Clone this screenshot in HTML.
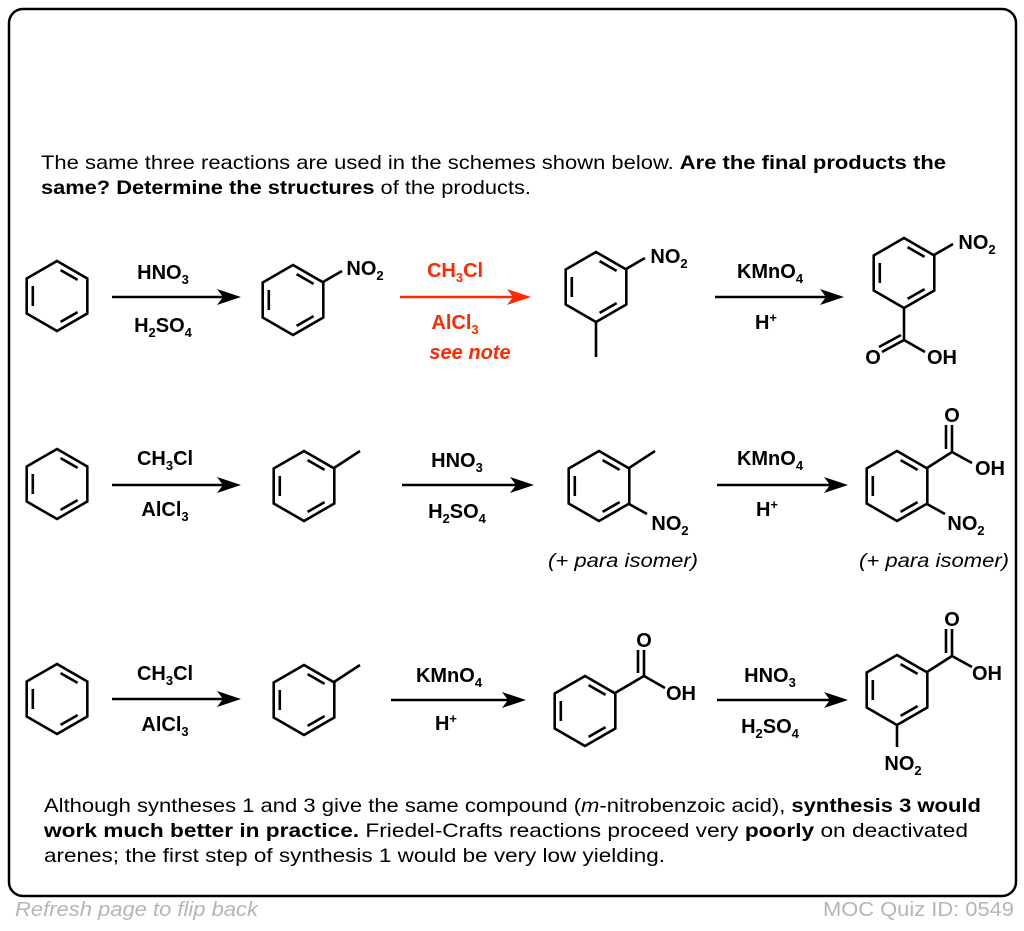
<!DOCTYPE html>
<html><head><meta charset="utf-8"><style>
body{margin:0;background:#fff;width:1024px;height:926px;overflow:hidden;font-family:"Liberation Sans",Arial,sans-serif}
</style></head><body>
<svg width="1024" height="926" viewBox="0 0 1024 926" xmlns="http://www.w3.org/2000/svg" font-family="Liberation Sans, Arial, sans-serif">
<defs>
<g id="ring" fill="none" stroke="#000" stroke-width="2.6" stroke-linejoin="miter">
<polygon points="0,-35 30.3,-17.5 30.3,17.5 0,35 -30.3,17.5 -30.3,-17.5"/>
<line x1="3.6" y1="-25.9" x2="20.6" y2="-16.1"/>
<line x1="-24.2" y1="-10" x2="-24.2" y2="10"/>
<line x1="20.6" y1="16.1" x2="3.6" y2="25.9"/>
</g>
<path id="head" d="M-24,-8 L0,0 L-24,8 L-18,0z"/>
</defs>
<rect x="9" y="9" width="1007" height="887" rx="14" fill="none" stroke="#000" stroke-width="2.5"/>
<g font-size="19.5" fill="#000">
<text x="41" y="169" textLength="905" lengthAdjust="spacingAndGlyphs">The same three reactions are used in the schemes shown below. <tspan font-weight="bold">Are the final products the</tspan></text>
<text x="41" y="194" textLength="490" lengthAdjust="spacingAndGlyphs"><tspan font-weight="bold">same? Determine the structures</tspan> of the products.</text>
<text x="44" y="812" textLength="937" lengthAdjust="spacingAndGlyphs">Although syntheses 1 and 3 give the same compound (<tspan font-style="italic">m</tspan>-nitrobenzoic acid), <tspan font-weight="bold">synthesis 3 would</tspan></text>
<text x="44" y="837" textLength="924" lengthAdjust="spacingAndGlyphs"><tspan font-weight="bold">work much better in practice.</tspan> Friedel-Crafts reactions proceed very <tspan font-weight="bold">poorly</tspan> on deactivated</text>
<text x="44" y="862" textLength="621" lengthAdjust="spacingAndGlyphs">arenes; the first step of synthesis 1 would be very low yielding.</text>
</g>
<g font-size="20" font-style="italic" fill="#b5b5b5">
<text x="15" y="916" textLength="243" lengthAdjust="spacingAndGlyphs">Refresh page to flip back</text>
<text x="823" y="916" font-style="normal" textLength="191" lengthAdjust="spacingAndGlyphs">MOC Quiz ID: 0549</text>
</g>
<use href="#ring" x="57" y="296"/>
<use href="#ring" x="293" y="300"/>
<use href="#ring" x="596" y="287"/>
<use href="#ring" x="904" y="273"/>
<use href="#ring" x="57" y="484"/>
<use href="#ring" x="304" y="486"/>
<use href="#ring" x="599" y="486"/>
<use href="#ring" x="897" y="486"/>
<use href="#ring" x="57" y="699"/>
<use href="#ring" x="304" y="700"/>
<use href="#ring" x="585" y="711"/>
<use href="#ring" x="897" y="690"/>
<g stroke="#000" stroke-width="2.6" fill="none">
<line x1="323" y1="282" x2="342" y2="271"/>
<line x1="626" y1="269" x2="645" y2="258"/>
<line x1="596" y1="322" x2="596" y2="357"/>
<line x1="934" y1="255" x2="953" y2="244"/>
<line x1="904" y1="308" x2="904" y2="340"/>
<line x1="904" y1="340" x2="882" y2="352"/>
<line x1="901" y1="335" x2="879" y2="347"/>
<line x1="904" y1="340" x2="925" y2="352"/>
<line x1="334" y1="468" x2="360" y2="451"/>
<line x1="629" y1="468" x2="655" y2="451"/>
<line x1="629" y1="504" x2="647" y2="514"/>
<line x1="927" y1="468" x2="952" y2="452"/>
<line x1="952" y1="452" x2="952" y2="425"/>
<line x1="946" y1="449" x2="946" y2="425"/>
<line x1="952" y1="452" x2="972" y2="463"/>
<line x1="927" y1="504" x2="945" y2="514"/>
<line x1="334" y1="682" x2="360" y2="665"/>
<line x1="615" y1="693" x2="644" y2="676"/>
<line x1="644" y1="676" x2="644" y2="650"/>
<line x1="638" y1="673" x2="638" y2="650"/>
<line x1="644" y1="676" x2="665" y2="688"/>
<line x1="927" y1="672" x2="952" y2="656"/>
<line x1="952" y1="656" x2="952" y2="629"/>
<line x1="946" y1="653" x2="946" y2="629"/>
<line x1="952" y1="656" x2="972" y2="667"/>
<line x1="897" y1="725" x2="897" y2="747"/>
</g>
<g stroke-width="2.6" stroke="#000">
<line x1="112" y1="297" x2="225" y2="297"/>
<line x1="400" y1="297" x2="515" y2="297" stroke="#ff2a00"/>
<line x1="715" y1="297" x2="828" y2="297"/>
<line x1="112" y1="485" x2="225" y2="485"/>
<line x1="402" y1="485" x2="518" y2="485"/>
<line x1="717" y1="485" x2="832" y2="485"/>
<line x1="112" y1="699" x2="225" y2="699"/>
<line x1="391" y1="700" x2="510" y2="700"/>
<line x1="717" y1="700" x2="832" y2="700"/>
</g>
<g fill="#000">
<use href="#head" x="241" y="297"/>
<use href="#head" x="531" y="297" fill="#ff2a00"/>
<use href="#head" x="844" y="297"/>
<use href="#head" x="241" y="485"/>
<use href="#head" x="534" y="485"/>
<use href="#head" x="848" y="485"/>
<use href="#head" x="241" y="699"/>
<use href="#head" x="526" y="700"/>
<use href="#head" x="848" y="700"/>
</g>
<g font-size="20" font-weight="bold" fill="#000" text-anchor="middle">
<text x="163" y="279">HNO<tspan font-size="13" dy="5">3</tspan></text>
<text x="163" y="332">H<tspan font-size="13" dy="5">2</tspan><tspan dy="-5">SO</tspan><tspan font-size="13" dy="5">4</tspan></text>
<text x="365" y="275">NO<tspan font-size="13" dy="5">2</tspan></text>
<g fill="#ff2a00">
<text x="455" y="277">CH<tspan font-size="13" dy="5">3</tspan><tspan dy="-5">Cl</tspan></text>
<text x="455" y="329">AlCl<tspan font-size="13" dy="5">3</tspan></text>
<text x="470" y="359" font-style="italic">see note</text>
</g>
<text x="669" y="263">NO<tspan font-size="13" dy="5">2</tspan></text>
<text x="770" y="278">KMnO<tspan font-size="13" dy="5">4</tspan></text>
<text x="766" y="329">H<tspan font-size="13" dy="-7">+</tspan></text>
<text x="977" y="249">NO<tspan font-size="13" dy="5">2</tspan></text>
<text x="873" y="364">O</text>
<text x="942" y="364">OH</text>

<text x="165" y="465">CH<tspan font-size="13" dy="5">3</tspan><tspan dy="-5">Cl</tspan></text>
<text x="165" y="516">AlCl<tspan font-size="13" dy="5">3</tspan></text>
<text x="457" y="467">HNO<tspan font-size="13" dy="5">3</tspan></text>
<text x="457" y="518">H<tspan font-size="13" dy="5">2</tspan><tspan dy="-5">SO</tspan><tspan font-size="13" dy="5">4</tspan></text>
<text x="670" y="530">NO<tspan font-size="13" dy="5">2</tspan></text>
<text x="770" y="465">KMnO<tspan font-size="13" dy="5">4</tspan></text>
<text x="767" y="516">H<tspan font-size="13" dy="-7">+</tspan></text>
<text x="952" y="422">O</text>
<text x="990" y="475">OH</text>
<text x="966" y="530">NO<tspan font-size="13" dy="5">2</tspan></text>

<text x="165" y="680">CH<tspan font-size="13" dy="5">3</tspan><tspan dy="-5">Cl</tspan></text>
<text x="165" y="731">AlCl<tspan font-size="13" dy="5">3</tspan></text>
<text x="449" y="682">KMnO<tspan font-size="13" dy="5">4</tspan></text>
<text x="446" y="730">H<tspan font-size="13" dy="-7">+</tspan></text>
<text x="644" y="647">O</text>
<text x="681" y="700">OH</text>
<text x="770" y="682">HNO<tspan font-size="13" dy="5">3</tspan></text>
<text x="770" y="733">H<tspan font-size="13" dy="5">2</tspan><tspan dy="-5">SO</tspan><tspan font-size="13" dy="5">4</tspan></text>
<text x="952" y="626">O</text>
<text x="987" y="680">OH</text>
<text x="903" y="770">NO<tspan font-size="13" dy="5">2</tspan></text>
</g>
<g font-size="19.5" font-style="italic" fill="#000">
<text x="548" y="567" textLength="150" lengthAdjust="spacingAndGlyphs">(+ para isomer)</text>
<text x="859" y="567" textLength="150" lengthAdjust="spacingAndGlyphs">(+ para isomer)</text>
</g>
</svg>
</body></html>
